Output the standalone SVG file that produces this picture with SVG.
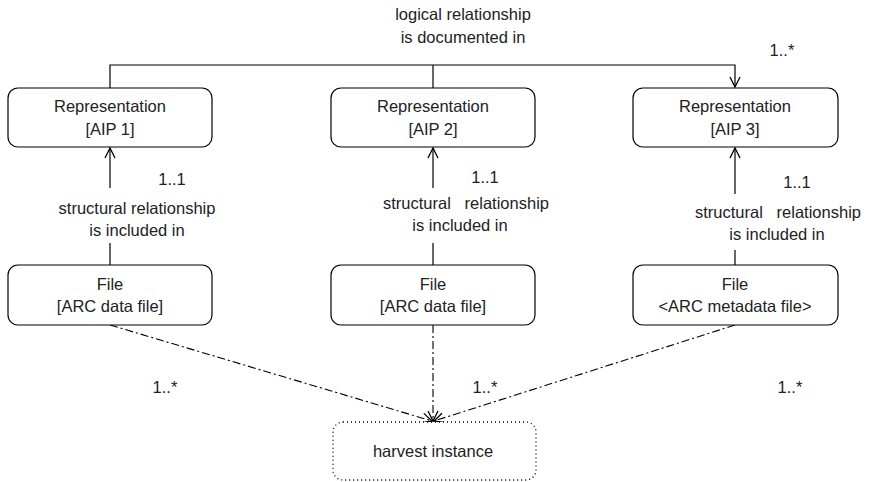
<svg xmlns="http://www.w3.org/2000/svg" width="871" height="482" viewBox="0 0 871 482">
  <defs>
    <marker id="open" viewBox="0 0 12 12" refX="11" refY="6" markerWidth="12" markerHeight="12" markerUnits="userSpaceOnUse" orient="auto">
      <path d="M1,1 L11,6 L1,11" fill="none" stroke="#000" stroke-width="1.3"/>
    </marker>
  </defs>
  <style>
    text { font-family: "Liberation Sans", Arial, sans-serif; font-size: 16.5px; fill: #222; text-anchor: middle; }
    .pre { white-space: pre; }
    .box { fill: #fff; stroke: #000; stroke-width: 1.2; }
    .dotbox { fill: #fff; stroke: #000; stroke-width: 1.3; stroke-dasharray: 1 3; }
    .line { fill: none; stroke: #000; stroke-width: 1.2; }
    .dash { fill: none; stroke: #000; stroke-width: 1.1; stroke-dasharray: 8 3 2 3; }
  </style>

  <!-- connectors -->
  <g id="connectors">
    <path class="line" d="M110,88 V65 H735 V87" marker-end="url(#open)"/>
    <path class="line" d="M433,88 V65"/>
    <text x="463" y="20">logical relationship</text>
    <text x="463" y="43">is documented in</text>
    <text x="782" y="56">1..*</text>

    <path class="line" d="M110,188 V148" marker-end="url(#open)"/>
    <path class="line" d="M110,265 V243"/>
    <text x="172" y="185">1..1</text>
    <text x="137" y="214">structural relationship</text>
    <text x="137" y="236">is included in</text>

    <path class="line" d="M433,188 V148" marker-end="url(#open)"/>
    <path class="line" d="M433,265 V243"/>
    <text x="485" y="183">1..1</text>
    <text class="pre" x="466" y="209">structural   relationship</text>
    <text x="460" y="231">is included in</text>

    <path class="line" d="M735,194 V148" marker-end="url(#open)"/>
    <path class="line" d="M735,265 V250"/>
    <text x="797" y="188">1..1</text>
    <text class="pre" x="778" y="218">structural   relationship</text>
    <text x="777" y="240">is included in</text>

    <path class="dash" d="M110,325 L432,421" marker-end="url(#open)"/>
    <path class="dash" d="M433,325 V421" marker-end="url(#open)"/>
    <path class="dash" d="M735,325 L434,421" marker-end="url(#open)"/>
    <text x="165" y="393">1..*</text>
    <text x="485" y="393">1..*</text>
    <text x="790" y="393">1..*</text>
  </g>

  <g id="rep1">
    <rect class="box" x="8" y="88" width="204" height="59" rx="10"/>
    <text x="110" y="112">Representation</text>
    <text x="110" y="135">[AIP 1]</text>
  </g>
  <g id="rep2">
    <rect class="box" x="331" y="88" width="204" height="59" rx="10"/>
    <text x="433" y="112">Representation</text>
    <text x="433" y="135">[AIP 2]</text>
  </g>
  <g id="rep3">
    <rect class="box" x="633" y="88" width="205" height="59" rx="10"/>
    <text x="735" y="112">Representation</text>
    <text x="735" y="135">[AIP 3]</text>
  </g>

  <g id="file1">
    <rect class="box" x="8" y="265" width="204" height="60" rx="10"/>
    <text x="110" y="290">File</text>
    <text x="110" y="312">[ARC data file]</text>
  </g>
  <g id="file2">
    <rect class="box" x="331" y="265" width="204" height="60" rx="10"/>
    <text x="433" y="290">File</text>
    <text x="433" y="312">[ARC data file]</text>
  </g>
  <g id="file3">
    <rect class="box" x="633" y="265" width="205" height="60" rx="10"/>
    <text x="735" y="290">File</text>
    <text x="735" y="312">&lt;ARC metadata file&gt;</text>
  </g>

  <g id="harvest">
    <rect class="dotbox" x="333" y="422" width="203" height="58" rx="10"/>
    <text x="433" y="457">harvest instance</text>
  </g>
</svg>
